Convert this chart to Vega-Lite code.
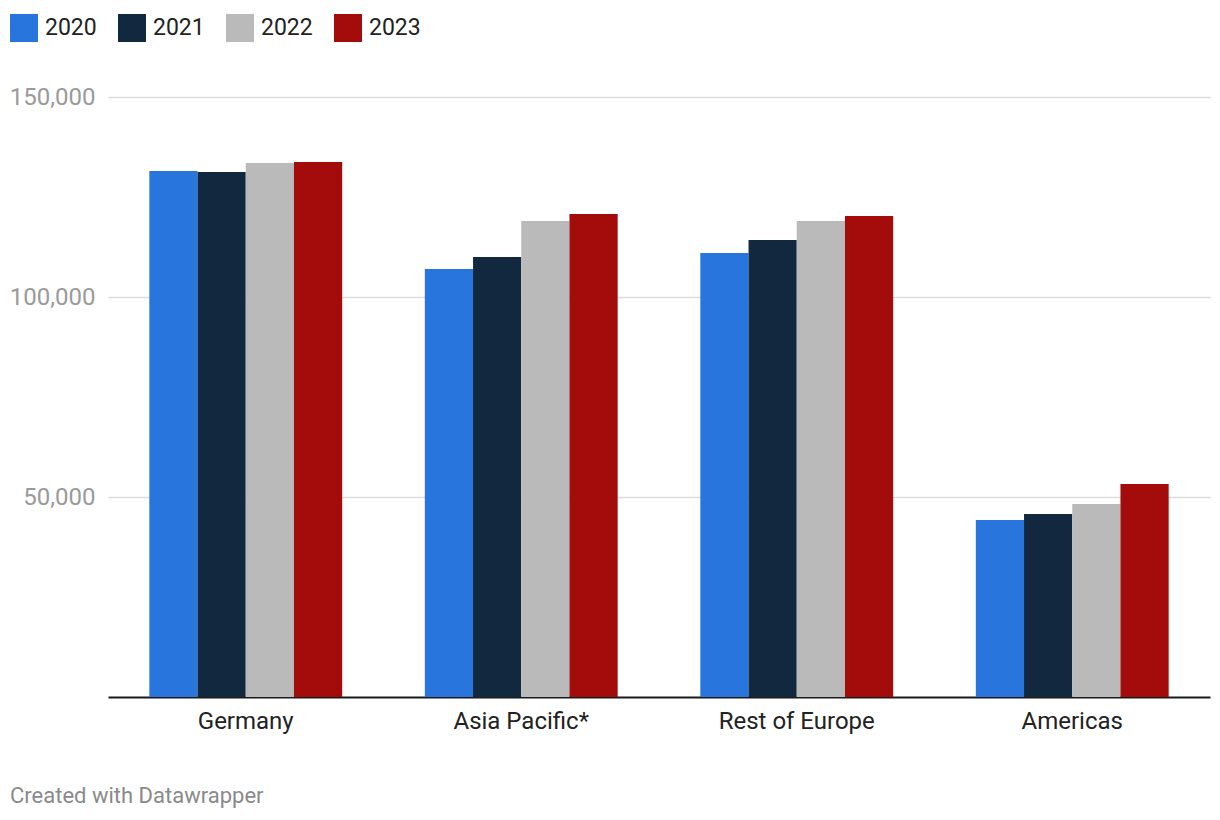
{
  "$schema": "https://vega.github.io/schema/vega-lite/v6.json",
  "width": 1102,
  "height": 600,
  "autosize": {"type": "none"},
  "padding": {"left": 108, "top": 97, "right": 10, "bottom": 123},
  "background": "white",
  "config": {
    "font": "Roboto",
    "view": {"stroke": null}
  },
  "title": {
    "text": "Created with Datawrapper",
    "orient": "bottom",
    "anchor": "start",
    "frame": "group",
    "dx": -98,
    "offset": 53,
    "font": "Roboto",
    "fontSize": 22,
    "fontWeight": "normal",
    "color": "#8a8a8a"
  },
  "data": {
    "values": [
      {"region": "Germany", "year": "2020", "value": 131500},
      {"region": "Germany", "year": "2021", "value": 131250},
      {"region": "Germany", "year": "2022", "value": 133500},
      {"region": "Germany", "year": "2023", "value": 133750},
      {"region": "Asia Pacific*", "year": "2020", "value": 107000},
      {"region": "Asia Pacific*", "year": "2021", "value": 110000},
      {"region": "Asia Pacific*", "year": "2022", "value": 119000},
      {"region": "Asia Pacific*", "year": "2023", "value": 120750},
      {"region": "Rest of Europe", "year": "2020", "value": 111000},
      {"region": "Rest of Europe", "year": "2021", "value": 114250},
      {"region": "Rest of Europe", "year": "2022", "value": 119000},
      {"region": "Rest of Europe", "year": "2023", "value": 120250},
      {"region": "Americas", "year": "2020", "value": 44250},
      {"region": "Americas", "year": "2021", "value": 45750},
      {"region": "Americas", "year": "2022", "value": 48250},
      {"region": "Americas", "year": "2023", "value": 53250}
    ]
  },
  "mark": {"type": "bar"},
  "encoding": {
    "x": {
      "field": "region",
      "type": "nominal",
      "sort": ["Germany", "Asia Pacific*", "Rest of Europe", "Americas"],
      "scale": {"paddingInner": 0.3, "paddingOuter": 0.15},
      "axis": {
        "title": null,
        "labelAngle": 0,
        "labelFontSize": 24,
        "labelColor": "#222222",
        "labelPadding": 12,
        "ticks": false,
        "domainColor": "#1a1a1a",
        "domainWidth": 2,
        "grid": false
      }
    },
    "xOffset": {
      "field": "year",
      "type": "nominal",
      "scale": {"paddingInner": 0, "paddingOuter": 0}
    },
    "y": {
      "field": "value",
      "type": "quantitative",
      "scale": {"domain": [0, 150000], "nice": false},
      "axis": {
        "title": null,
        "values": [50000, 100000, 150000],
        "format": ",d",
        "labelFontSize": 24,
        "labelColor": "#9a9a9a",
        "labelPadding": 13,
        "ticks": false,
        "domain": false,
        "grid": true,
        "gridColor": "#dcdcdc",
        "gridWidth": 1.5
      }
    },
    "color": {
      "field": "year",
      "type": "nominal",
      "scale": {
        "domain": ["2020", "2021", "2022", "2023"],
        "range": ["#2876DD", "#12283F", "#BABABA", "#A40B0B"]
      },
      "legend": {
        "title": null,
        "orient": "none",
        "direction": "horizontal",
        "legendX": -98,
        "legendY": -83,
        "padding": 0,
        "symbolType": "square",
        "symbolSize": 784,
        "symbolStrokeWidth": 0,
        "symbolOpacity": 1,
        "labelFontSize": 23,
        "labelColor": "#222222",
        "labelOffset": 7,
        "columnPadding": 21
      }
    }
  }
}
